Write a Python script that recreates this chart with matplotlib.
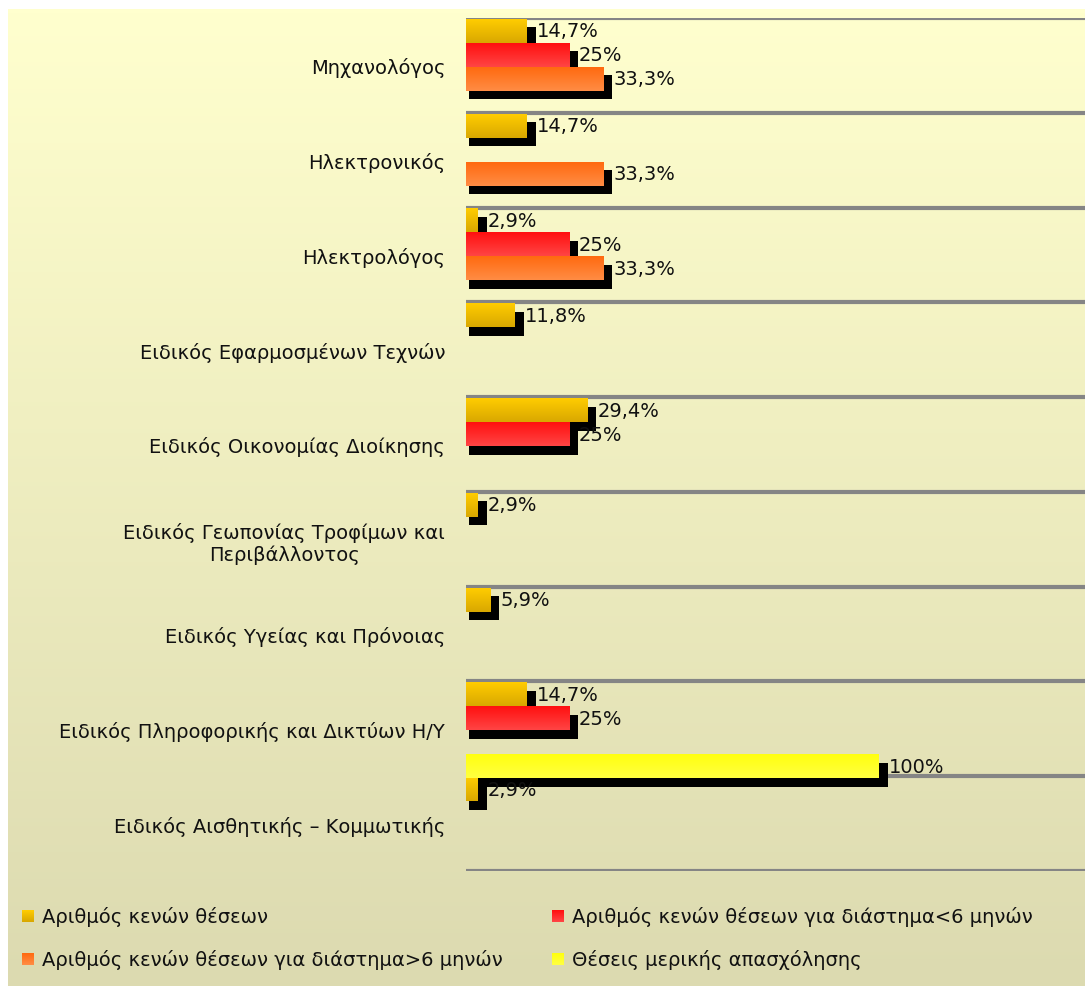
import numpy as np
import matplotlib
matplotlib.use("Agg")
import matplotlib.pyplot as plt
from matplotlib.patches import Rectangle

categories = [
    "Μηχανολόγος",
    "Ηλεκτρονικός",
    "Ηλεκτρολόγος",
    "Ειδικός Εφαρμοσμένων Τεχνών",
    "Ειδικός Οικονομίας Διοίκησης",
    "Ειδικός Γεωπονίας Τροφίμων και\nΠεριβάλλοντος",
    "Ειδικός Υγείας και Πρόνοιας",
    "Ειδικός Πληροφορικής και Δικτύων Η/Υ",
    "Ειδικός Αισθητικής – Κομμωτικής",
]
series_names = [
    "Αριθμός κενών θέσεων",
    "Αριθμός κενών θέσεων για διάστημα<6 μηνών",
    "Αριθμός κενών θέσεων για διάστημα>6 μηνών",
    "Θέσεις μερικής απασχόλησης",
]
nan = np.nan
vacancies = [14.7, 14.7, 2.9, 11.8, 29.4, 2.9, 5.9, 14.7, 2.9]
under_6m  = [25, nan, 25, nan, 25, nan, nan, 25, nan]
over_6m   = [33.3, 33.3, 33.3, nan, nan, nan, nan, nan, nan]
part_time = [nan, nan, nan, nan, nan, nan, nan, 100, nan]
series = [vacancies, under_6m, over_6m, part_time]

# gradient colours (top, bottom) per series
grads = [("#FFCC00", "#D9A800"), ("#FF1010", "#FF4444"),
         ("#FF6A10", "#FF8C44"), ("#FFFF10", "#FFFF40")]

W, H = 1085, 987
fig = plt.figure(figsize=(W / 100, H / 100), dpi=100)
fig.patch.set_facecolor("white")

# chart background gradient
bg = fig.add_axes([8 / W, 0, 1 - 8 / W, 1 - 10 / H], zorder=-5)
top, bot = np.array([255, 255, 206]) / 255, np.array([220, 218, 176]) / 255
t = np.linspace(0, 1, 256)[:, None, None]
bg.imshow(top + (bot - top) * t, aspect="auto", extent=(0, 1, 0, 1))
bg.axis("off")

ax = fig.add_axes([466 / W, 1 - 872 / H, 1 - 466 / W, (872 - 19) / H])
ax.patch.set_alpha(0)
n = len(categories)
for s in ax.spines.values():
    s.set_visible(False)
ax.set_xticks([])
ax.set_yticks([i + 0.5 for i in range(n)])
ax.set_yticklabels(categories, fontsize=14, ha="right",
                   multialignment="center", color="#111111")
ax.tick_params(axis="y", length=0, pad=15)

for i in range(n + 1):
    ax.axhline(i, color="#858585", lw=3, zorder=0)

slot = 0.253
xo0, xo1, yo = 0.8, 2.2, 0.09
# shadows first
for k, vals in enumerate(series):
    for i, v in enumerate(vals):
        if np.isnan(v):
            continue
        y0 = i + k * slot + 0.01
        ax.add_patch(Rectangle((xo0, y0 + yo), v + xo1 - xo0, slot,
                               color="black", zorder=1, lw=0))
# bars with vertical gradient
for k, vals in enumerate(series):
    c0 = np.array(matplotlib.colors.to_rgb(grads[k][0]))
    c1 = np.array(matplotlib.colors.to_rgb(grads[k][1]))
    g = c0 + (c1 - c0) * np.linspace(0, 1, 32)[:, None, None]
    for i, v in enumerate(vals):
        if np.isnan(v):
            continue
        y0 = i + k * slot + 0.01
        ax.imshow(g, aspect="auto", extent=(0, v, y0 + slot, y0),
                  zorder=2, interpolation="bilinear")
        lab = f"{v:g}".replace(".", ",") + "%"
        ax.text(v + 2.4, y0 + slot / 2, lab, fontsize=14, va="center",
                ha="left", zorder=3, color="#111111")
ax.set_xlim(0, 150)
ax.set_ylim(n, 0)

# legend
leg_items = [(22, 917), (552, 917), (22, 960), (552, 960)]
for k, (x, y) in enumerate(leg_items):
    c0 = np.array(matplotlib.colors.to_rgb(grads[k][0]))
    c1 = np.array(matplotlib.colors.to_rgb(grads[k][1]))
    lax = fig.add_axes([x / W, 1 - (y + 6) / H, 12 / W, 12 / H])
    lax.imshow(c0 + (c1 - c0) * np.linspace(0, 1, 16)[:, None, None],
               aspect="auto")
    lax.axis("off")
    fig.text((x + 20) / W, 1 - y / H, series_names[k], fontsize=14,
             va="center", ha="left", color="#111111")

fig.savefig("out.png", dpi=100)
